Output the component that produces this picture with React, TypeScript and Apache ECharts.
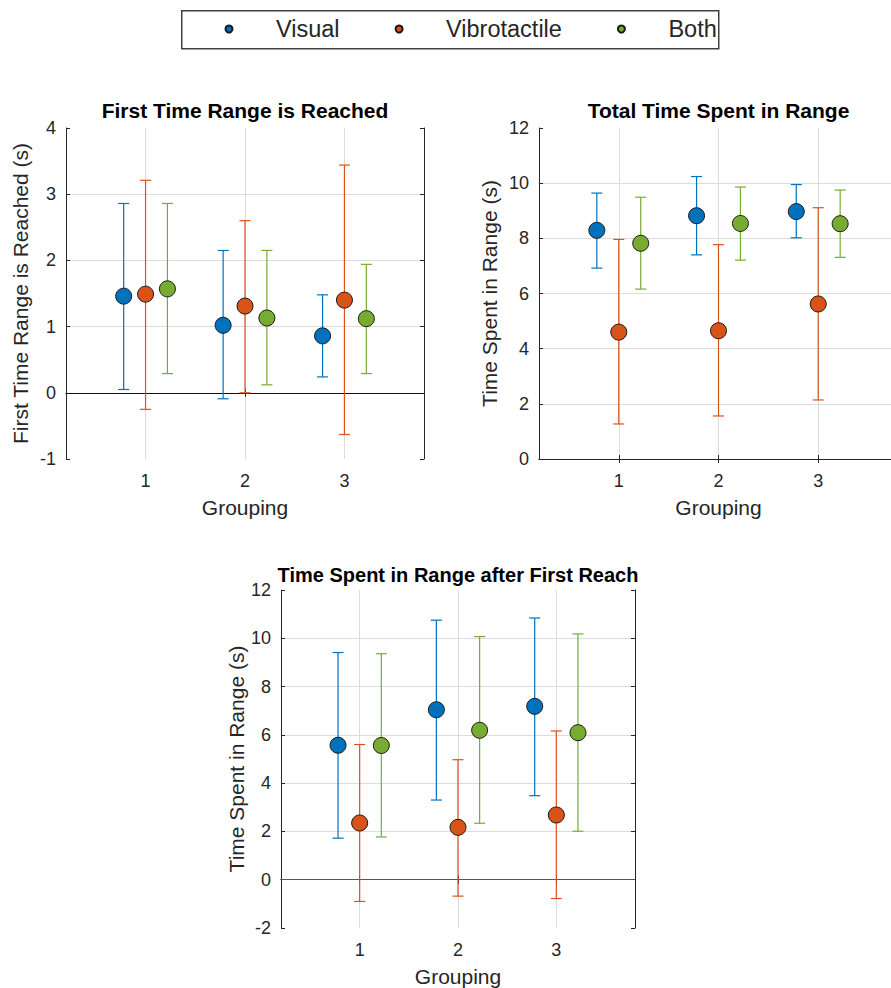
import React, { useEffect, useRef } from "react";
import * as echarts from "echarts";

// ---------- data ----------
const groups = [1, 2, 3];
const seriesNames = ["Visual", "Vibrotactile", "Both"];
const seriesColors = ["#0072BD", "#D95319", "#77AC30"];

const chartTitles = [
  "First Time Range is Reached",
  "Total Time Spent in Range",
  "Time Spent in Range after First Reach",
];
const yAxisNames = [
  "First Time Range is Reached (s)",
  "Time Spent in Range (s)",
  "Time Spent in Range (s)",
];
const xAxisName = "Grouping";

// First Time Range is Reached
const ftVisualMean = [1.46, 1.02, 0.86];
const ftVisualLow = [0.05, -0.09, 0.24];
const ftVisualHigh = [2.86, 2.15, 1.48];
const ftVibroMean = [1.49, 1.31, 1.4];
const ftVibroLow = [-0.25, 0.0, -0.63];
const ftVibroHigh = [3.21, 2.6, 3.44];
const ftBothMean = [1.57, 1.13, 1.12];
const ftBothLow = [0.29, 0.12, 0.29];
const ftBothHigh = [2.86, 2.15, 1.94];

// Total Time Spent in Range
const ttVisualMean = [8.29, 8.82, 8.97];
const ttVisualLow = [6.92, 7.4, 8.02];
const ttVisualHigh = [9.64, 10.24, 9.95];
const ttVibroMean = [4.6, 4.65, 5.62];
const ttVibroLow = [1.27, 1.56, 2.14];
const ttVibroHigh = [7.96, 7.77, 9.11];
const ttBothMean = [7.82, 8.54, 8.53];
const ttBothLow = [6.16, 7.21, 7.31];
const ttBothHigh = [9.49, 9.86, 9.75];

// Time Spent in Range after First Reach
const afVisualMean = [5.57, 7.04, 7.18];
const afVisualLow = [1.72, 3.3, 3.48];
const afVisualHigh = [9.41, 10.75, 10.84];
const afVibroMean = [2.35, 2.17, 2.68];
const afVibroLow = [-0.9, -0.68, -0.78];
const afVibroHigh = [5.6, 4.97, 6.16];
const afBothMean = [5.56, 6.19, 6.09];
const afBothLow = [1.77, 2.34, 2.01];
const afBothHigh = [9.36, 10.07, 10.18];

const xMin = 0.2;
const xMax = 3.8;
const yMins = [-1, 0, -2];
const yMaxs = [4, 12, 12];
const yIntervals = [1, 2, 2];

// ---------- layout ----------
const FONT = '"Liberation Sans", Arial, Helvetica, sans-serif';
const AX = "#262626";
const GRID_COLOR = "#dcdcdc";
const OFFSETS = [-0.22, 0, 0.22];
const grids = [
  { left: 66, top: 128, width: 358, height: 331 },
  { left: 539, top: 128, width: 359, height: 331 },
  { left: 281, top: 590, width: 354, height: 339 },
];
const yNameGaps = [35, 39, 34];
const titleTops = [100, 100, 565];
const titleSizes = [21, 21, 20];

const panels = [
  [
    [ftVisualMean, ftVisualLow, ftVisualHigh],
    [ftVibroMean, ftVibroLow, ftVibroHigh],
    [ftBothMean, ftBothLow, ftBothHigh],
  ],
  [
    [ttVisualMean, ttVisualLow, ttVisualHigh],
    [ttVibroMean, ttVibroLow, ttVibroHigh],
    [ttBothMean, ttBothLow, ttBothHigh],
  ],
  [
    [afVisualMean, afVisualLow, afVisualHigh],
    [afVibroMean, afVibroLow, afVibroHigh],
    [afBothMean, afBothLow, afBothHigh],
  ],
];
const zeroLinePanels = [0, 2];
const zeroLineColors: Record<number, string> = { 0: "#111111", 2: "#555555" };

function buildOption() {
  const xAxis: any[] = [];
  const yAxis: any[] = [];
  const series: any[] = [];
  const title: any[] = [];

  grids.forEach((g, gi) => {
    const xBase = {
      type: "value",
      gridIndex: gi,
      min: xMin,
      max: xMax,
    };
    xAxis.push({
      ...xBase,
      position: "bottom",
      axisLine: { show: true, lineStyle: { color: AX, width: 1 } },
      axisTick: {
        show: true,
        inside: true,
        length: 4,
        lineStyle: { color: AX },
        customValues: groups,
      },
      axisLabel: {
        fontSize: 18,
        color: AX,
        margin: 13,
        fontFamily: FONT,
        customValues: groups,
      },
      splitLine: {
        show: true,
        showMinLine: true,
        showMaxLine: true,
        lineStyle: { color: GRID_COLOR, width: 1 },
      },
      name: xAxisName,
      nameLocation: "middle",
      nameGap: 38,
      nameTextStyle: { fontSize: 21, color: AX, fontFamily: FONT },
    });
    xAxis.push({
      ...xBase,
      position: "top",
      axisLine: { show: true, lineStyle: { color: AX, width: 1 } },
      axisTick: {
        show: true,
        inside: true,
        length: 4,
        lineStyle: { color: AX },
        customValues: groups,
      },
      axisLabel: { show: false, customValues: groups },
      splitLine: { show: false },
    });
    const yBase = {
      type: "value",
      gridIndex: gi,
      min: yMins[gi],
      max: yMaxs[gi],
      interval: yIntervals[gi],
    };
    yAxis.push({
      ...yBase,
      position: "left",
      axisLine: { show: true, lineStyle: { color: AX, width: 1 } },
      axisTick: { show: true, inside: true, length: 4, lineStyle: { color: AX } },
      axisLabel: { fontSize: 18, color: AX, margin: 10, fontFamily: FONT },
      splitLine: {
        show: true,
        showMinLine: false,
        showMaxLine: false,
        lineStyle: { color: GRID_COLOR, width: 1 },
      },
      name: yAxisNames[gi],
      nameLocation: "middle",
      nameGap: yNameGaps[gi],
      nameTextStyle: { fontSize: 21, color: AX, fontFamily: FONT },
    });
    yAxis.push({
      ...yBase,
      position: "right",
      axisLine: { show: true, lineStyle: { color: AX, width: 1 } },
      axisTick: { show: true, inside: true, length: 4, lineStyle: { color: AX } },
      axisLabel: { show: false },
      splitLine: { show: false },
    });

    title.push({
      text: chartTitles[gi],
      left: g.left + g.width / 2,
      top: titleTops[gi],
      textAlign: "center",
      padding: 0,
      textStyle: { fontSize: titleSizes[gi], fontWeight: "bold", color: "#000", fontFamily: FONT },
    });

    panels[gi].forEach((arrs, si) => {
      const [mean, low, high] = arrs;
      const color = seriesColors[si];
      series.push({
        type: "custom",
        name: seriesNames[si] + " error",
        xAxisIndex: gi * 2,
        yAxisIndex: gi * 2,
        z: 2,
        silent: true,
        encode: { x: 0, y: [1, 2] },
        data: groups.map((grp, i) => [grp + OFFSETS[si], low[i], high[i]]),
        renderItem: (params: any, api: any) => {
          const x = api.value(0);
          const top = api.coord([x, api.value(2)]);
          const bot = api.coord([x, api.value(1)]);
          const hw = 5.5;
          const style = { stroke: color, lineWidth: 1.2, fill: "none" };
          return {
            type: "group",
            children: [
              { type: "line", shape: { x1: top[0], y1: top[1], x2: bot[0], y2: bot[1] }, style },
              { type: "line", shape: { x1: top[0] - hw, y1: top[1], x2: top[0] + hw, y2: top[1] }, style },
              { type: "line", shape: { x1: bot[0] - hw, y1: bot[1], x2: bot[0] + hw, y2: bot[1] }, style },
            ],
          };
        },
      });
      const sc: any = {
        type: "scatter",
        name: seriesNames[si],
        xAxisIndex: gi * 2,
        yAxisIndex: gi * 2,
        z: 4,
        symbol: "circle",
        symbolSize: 16,
        itemStyle: { color, borderColor: "#1a1a1a", borderWidth: 1, opacity: 1 },
        data: groups.map((grp, i) => [grp + OFFSETS[si], mean[i]]),
      };
      if (si === 0 && zeroLinePanels.includes(gi)) {
        sc.markLine = {
          silent: true,
          symbol: "none",
          label: { show: false },
          lineStyle: { color: zeroLineColors[gi], width: 1, type: "solid" },
          data: [{ yAxis: 0 }],
          z: 1,
        };
      }
      series.push(sc);
    });
  });

  return {
    animation: false,
    backgroundColor: "#ffffff",
    textStyle: { fontFamily: FONT },
    title,
    grid: grids.map((g) => ({ ...g, containLabel: false })),
    xAxis,
    yAxis,
    legend: {
      data: seriesNames,
      left: 224.5,
      top: 17,
      padding: 0,
      itemWidth: 84,
      itemHeight: 7,
      itemGap: 55,
      icon: "circle",
      selectedMode: false,
      textStyle: { fontSize: 23.5, color: AX, fontFamily: FONT },
    },
    graphic: [
      {
        type: "rect",
        left: 181,
        top: 10,
        z: -1,
        shape: { width: 537, height: 38 },
        style: { fill: "#ffffff", stroke: "#404040", lineWidth: 1.5 },
      },
    ],
    series,
  };
}

export default function App() {
  const ref = useRef<HTMLDivElement>(null);
  useEffect(() => {
    document.body.style.margin = "0";
    if (!ref.current) return;
    const chart = echarts.init(ref.current, undefined, { renderer: "svg" });
    chart.setOption(buildOption() as any);
    return () => chart.dispose();
  }, []);
  return (
    <div style={{ width: 891, height: 988, overflow: "hidden", position: "relative" }}>
      <div ref={ref} style={{ width: 910, height: 988 }} />
    </div>
  );
}
